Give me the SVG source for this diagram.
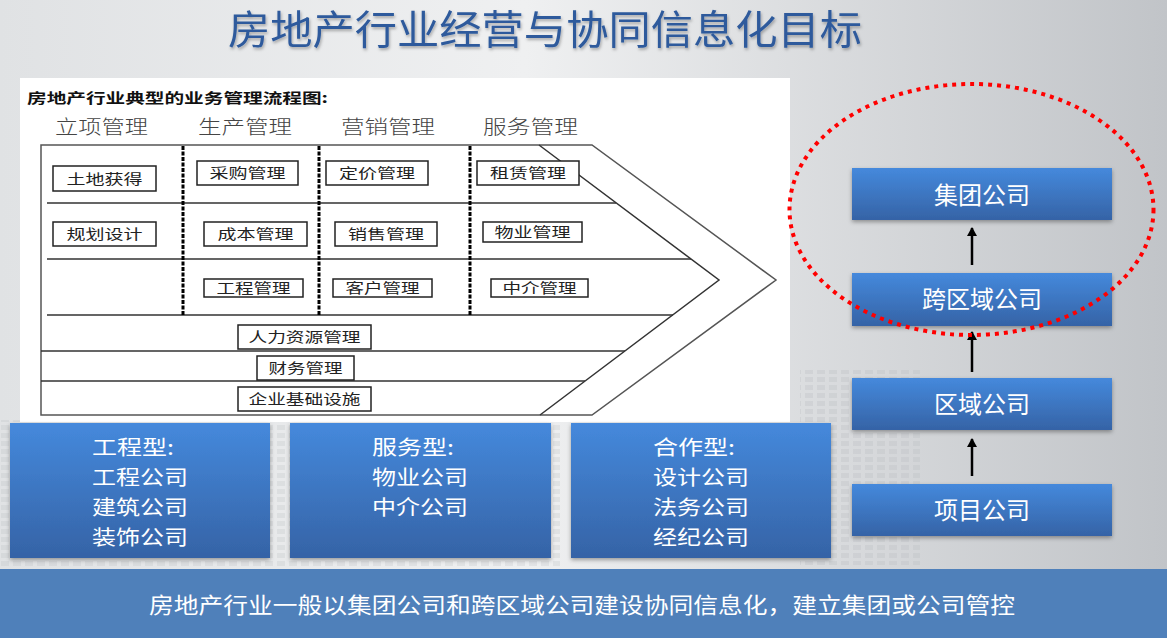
<svg xmlns="http://www.w3.org/2000/svg" width="1167" height="638" viewBox="0 0 1167 638">
<defs>
<linearGradient id="bg" x1="0" y1="0" x2="1" y2="0">
<stop offset="0" stop-color="#e0e2e4"/>
<stop offset="0.45" stop-color="#eff0f1"/>
<stop offset="1" stop-color="#c1c4c8"/>
</linearGradient>
<linearGradient id="blue" x1="0" y1="0" x2="0" y2="1">
<stop offset="0" stop-color="#4589dc"/>
<stop offset="1" stop-color="#3563a6"/>
</linearGradient>
<filter id="sh" x="-10%" y="-10%" width="120%" height="130%">
<feDropShadow dx="0" dy="2" stdDeviation="2" flood-color="#000" flood-opacity="0.35"/>
</filter>
<filter id="tsh" x="-5%" y="-20%" width="110%" height="150%">
<feDropShadow dx="1" dy="2" stdDeviation="1.5" flood-color="#000" flood-opacity="0.3"/>
</filter>
<marker id="arr" markerWidth="10" markerHeight="10" refX="8" refY="5" orient="auto" markerUnits="userSpaceOnUse">
<path d="M0,0 L9,5 L0,10 z" fill="#000"/>
</marker>
<pattern id="dots" width="12" height="8" patternUnits="userSpaceOnUse">
<rect x="1" y="1" width="8" height="5" fill="#b9bcc0"/>
</pattern>
</defs>
<style>
.cjk{font-family:"Noto Sans CJK SC","Noto Sans",sans-serif}
.hdr{font-size:19px;fill:#444;font-weight:300}
.sb{fill:#fff;stroke:#222;stroke-width:1.5}
.st{font-size:14px;fill:#222;text-anchor:middle}
.ln{stroke:#333;stroke-width:1.5;fill:none}
.dash{stroke:#000;stroke-width:3;stroke-dasharray:4 1.5}
.bb{fill:url(#blue);filter:url(#sh)}
.wt{fill:#fff;font-size:20.5px}
.wc{fill:#fff;font-size:24px;text-anchor:middle}
</style>
<rect x="0" y="0" width="1167" height="638" fill="url(#bg)"/>
<rect x="800" y="370" width="120" height="195" fill="url(#dots)" opacity="0.3"/>
<rect x="0" y="420" width="560" height="150" fill="url(#dots)" opacity="0.25"/>
<text class="cjk" x="545" y="44" font-size="40" fill="#2e5a9c" text-anchor="middle" textLength="634" lengthAdjust="spacingAndGlyphs" filter="url(#tsh)">房地产行业经营与协同信息化目标</text>

<g id="process-panel">
<rect x="20" y="78" width="770" height="344" fill="#fff"/>
<text class="cjk" x="27" y="103" font-size="14" font-weight="bold" fill="#111" textLength="301" lengthAdjust="spacingAndGlyphs">房地产行业典型的业务管理流程图:</text>
<text class="cjk hdr" x="55" y="134" textLength="93" lengthAdjust="spacingAndGlyphs">立项管理</text>
<text class="cjk hdr" x="198" y="134" textLength="94" lengthAdjust="spacingAndGlyphs">生产管理</text>
<text class="cjk hdr" x="341" y="134" textLength="94" lengthAdjust="spacingAndGlyphs">营销管理</text>
<text class="cjk hdr" x="483" y="134" textLength="95" lengthAdjust="spacingAndGlyphs">服务管理</text>
<path d="M41,145 L592,145 L776,280 L592,415 L41,415 Z" fill="none" stroke="#555" stroke-width="1.5"/>
<path class="ln" d="M539,145 L719,280 L540,415"/>
<path class="ln" d="M47,203 H616 M47,259 H691 M47,315 H673 M41,351 H625 M41,381 H585"/>
<path class="dash" d="M183,146 V315 M319,146 V315 M470,146 V315"/>
</g>

<g id="n-tudi"><rect class="sb" x="53" y="166" width="103" height="25"/><text class="cjk st" x="104.5" y="184" textLength="76" lengthAdjust="spacingAndGlyphs">土地获得</text></g>
<g id="n-caigou"><rect class="sb" x="197" y="161" width="101" height="24"/><text class="cjk st" x="247.5" y="178" textLength="76" lengthAdjust="spacingAndGlyphs">采购管理</text></g>
<g id="n-dingjia"><rect class="sb" x="326" y="161" width="102" height="24"/><text class="cjk st" x="377" y="178" textLength="76" lengthAdjust="spacingAndGlyphs">定价管理</text></g>
<g id="n-zulin"><rect class="sb" x="477" y="161" width="102" height="24"/><text class="cjk st" x="528" y="178" textLength="76" lengthAdjust="spacingAndGlyphs">租赁管理</text></g>
<g id="n-guihua"><rect class="sb" x="53" y="222" width="103" height="24"/><text class="cjk st" x="104.5" y="239" textLength="76" lengthAdjust="spacingAndGlyphs">规划设计</text></g>
<g id="n-chengben"><rect class="sb" x="204" y="222" width="103" height="24"/><text class="cjk st" x="255.5" y="239" textLength="76" lengthAdjust="spacingAndGlyphs">成本管理</text></g>
<g id="n-xiaoshou"><rect class="sb" x="335" y="222" width="102" height="24"/><text class="cjk st" x="386" y="239" textLength="76" lengthAdjust="spacingAndGlyphs">销售管理</text></g>
<g id="n-wuye"><rect class="sb" x="483" y="222" width="99" height="20"/><text class="cjk st" x="532.5" y="237" textLength="76" lengthAdjust="spacingAndGlyphs">物业管理</text></g>
<g id="n-gongcheng"><rect class="sb" x="204" y="279" width="99" height="18"/><text class="cjk st" x="253.5" y="293" textLength="74" lengthAdjust="spacingAndGlyphs">工程管理</text></g>
<g id="n-kehu"><rect class="sb" x="333" y="279" width="99" height="18"/><text class="cjk st" x="382.5" y="293" textLength="74" lengthAdjust="spacingAndGlyphs">客户管理</text></g>
<g id="n-zhongjie"><rect class="sb" x="491" y="279" width="97" height="18"/><text class="cjk st" x="539.5" y="293" textLength="74" lengthAdjust="spacingAndGlyphs">中介管理</text></g>
<g id="n-renli"><rect class="sb" x="238" y="325" width="133" height="24"/><text class="cjk st" x="304.5" y="342" textLength="112" lengthAdjust="spacingAndGlyphs">人力资源管理</text></g>
<g id="n-caiwu"><rect class="sb" x="257" y="356" width="97" height="24"/><text class="cjk st" x="305.5" y="373" textLength="74" lengthAdjust="spacingAndGlyphs">财务管理</text></g>
<g id="n-jichu"><rect class="sb" x="238" y="387" width="133" height="24"/><text class="cjk st" x="304.5" y="404" textLength="112" lengthAdjust="spacingAndGlyphs">企业基础设施</text></g>

<g id="n-gcx"><rect class="bb" x="10" y="423" width="260" height="135"/>
<text class="cjk wt" x="92" y="455" textLength="82" lengthAdjust="spacingAndGlyphs">工程型:</text><text class="cjk wt" x="92" y="485" textLength="96" lengthAdjust="spacingAndGlyphs">工程公司</text><text class="cjk wt" x="92" y="515" textLength="96" lengthAdjust="spacingAndGlyphs">建筑公司</text><text class="cjk wt" x="92" y="545" textLength="96" lengthAdjust="spacingAndGlyphs">装饰公司</text></g>
<g id="n-fwx"><rect class="bb" x="290" y="423" width="261" height="135"/>
<text class="cjk wt" x="372" y="455" textLength="82" lengthAdjust="spacingAndGlyphs">服务型:</text><text class="cjk wt" x="372" y="485" textLength="96" lengthAdjust="spacingAndGlyphs">物业公司</text><text class="cjk wt" x="372" y="515" textLength="96" lengthAdjust="spacingAndGlyphs">中介公司</text></g>
<g id="n-hzx"><rect class="bb" x="571" y="423" width="260" height="135"/>
<text class="cjk wt" x="653" y="455" textLength="82" lengthAdjust="spacingAndGlyphs">合作型:</text><text class="cjk wt" x="653" y="485" textLength="96" lengthAdjust="spacingAndGlyphs">设计公司</text><text class="cjk wt" x="653" y="515" textLength="96" lengthAdjust="spacingAndGlyphs">法务公司</text><text class="cjk wt" x="653" y="545" textLength="96" lengthAdjust="spacingAndGlyphs">经纪公司</text></g>

<g id="n-jituan"><rect class="bb" x="852" y="168" width="260" height="52"/><text class="cjk wc" x="982" y="204">集团公司</text></g>
<g id="n-kuaquyu"><rect class="bb" x="852" y="273" width="260" height="53"/><text class="cjk wc" x="982" y="308">跨区域公司</text></g>
<g id="n-quyu"><rect class="bb" x="852" y="378" width="260" height="52"/><text class="cjk wc" x="982" y="413">区域公司</text></g>
<g id="n-xiangmu"><rect class="bb" x="852" y="484" width="260" height="52"/><text class="cjk wc" x="982" y="519">项目公司</text></g>

<g id="connectors" stroke="#000" stroke-width="2.5" fill="none">
<line x1="972" y1="265" x2="972" y2="228" marker-end="url(#arr)"/>
<line x1="972" y1="372" x2="972" y2="332" marker-end="url(#arr)"/>
<line x1="972" y1="476" x2="972" y2="439" marker-end="url(#arr)"/>
</g>

<ellipse id="highlight" cx="971.5" cy="209.5" rx="182" ry="125.5" fill="none" stroke="#ff0000" stroke-width="4" stroke-dasharray="4 5"/>

<g id="banner">
<rect x="0" y="569" width="1167" height="69" fill="#4f80ba"/>
<text class="cjk" x="582" y="613" font-size="22" fill="#fff" text-anchor="middle" textLength="866" lengthAdjust="spacingAndGlyphs">房地产行业一般以集团公司和跨区域公司建设协同信息化，建立集团或公司管控</text>
</g>
</svg>
